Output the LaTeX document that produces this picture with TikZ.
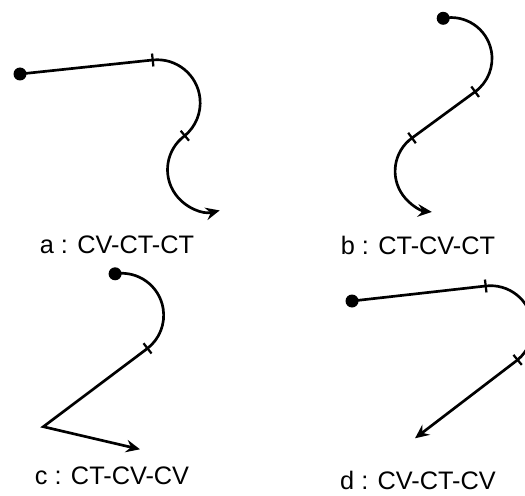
\documentclass[tikz,border=0pt]{standalone}
\usepackage{fontspec}
\setmainfont{Liberation Sans}
\usetikzlibrary{arrows.meta}

\begin{document}
\begin{tikzpicture}[x=0.025cm, y=0.025cm,
    curve/.style={line width=1.9pt},
    arrowed/.style={curve, -{Stealth[length=10pt, width=9pt, inset=3.5pt]}},
    tickmark/.style={line width=1.6pt},
    caption/.style={font=\fontsize{18}{21}\selectfont}]
    \useasboundingbox (0,0) rectangle (525,495);
    \clip (0,0) rectangle (525,495);
    \def\dotsize{6.5}

    % a : CV-CT-CT
    \coordinate (a0) at (20,421);
    \coordinate (a1) at (152.7,435);
    \draw[arrowed] (a0) -- (a1)
        arc[start angle=96, end angle=-50, radius=43] coordinate (a2)
        arc[start angle=126, end angle=284, radius=42];
    \fill (a0) circle[radius=\dotsize];

    % b : CT-CV-CT
    \coordinate (b0) at (443.2,476.7);
    \coordinate (b2) at (412,357);
    \draw[arrowed] (b0)
        arc[start angle=101, end angle=-54, radius=41] coordinate (b1)
        -- (b2)
        arc[start angle=126, end angle=264, radius=41];
    \fill (b0) circle[radius=\dotsize];

    % c : CT-CV-CV
    \coordinate (c0) at (115.1,221.2);
    \coordinate (c2) at (43.3,68.3);
    \coordinate (c3) at (140,45.7);
    \draw[arrowed] (c0)
        arc[start angle=99, end angle=-52, radius=42] coordinate (c1)
        -- (c2) -- (c3);
    \fill (c0) circle[radius=\dotsize];

    % d : CV-CT-CV
    \coordinate (d0) at (352,194);
    \coordinate (d1) at (485.7,209);
    \coordinate (d3) at (415,56.7);
    \draw[arrowed] (d0) -- (d1)
        arc[start angle=96.7, end angle=-50, radius=42] coordinate (d2)
        -- (d3);
    \fill (d0) circle[radius=\dotsize];

    % Tick marks across the path at each segment change
    \foreach \p/\a in {a1/96, a2/-50, b1/-54, b2/126, c1/-52, d1/96.7, d2/-50} {
        \draw[tickmark] (\p) ++(\a:6.5) -- ++(\a:-13);
    }

    % Labels
    \node[caption] (la) at (117,250) {a : CV-CT-CT};
    \node[caption] (lb) at (418,250) {b : CT-CV-CT};
    \node[caption] (lc) at (112,19) {c : CT-CV-CV};
    \node[caption] (ld) at (418,15) {d : CV-CT-CV};
\end{tikzpicture}
\end{document}
